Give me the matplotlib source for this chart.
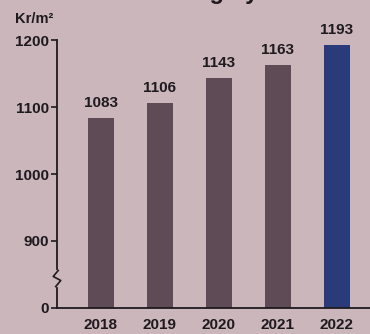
import matplotlib
matplotlib.use("Agg")
import matplotlib.pyplot as plt
import matplotlib.transforms as mtransforms

years = ["2018", "2019", "2020", "2021", "2022"]
rent = [1083, 1106, 1143, 1163, 1193]
tick_vals = [800, 900, 1000, 1100, 1200]
tick_labels = ["0", "900", "1000", "1100", "1200"]

bg = "#cbb6bc"
bar_colors = ["#5e4b55"] * 4 + ["#2b3b7a"]
ink = "#1e1a1e"

plt.rcParams["font.family"] = ["Liberation Sans", "DejaVu Sans"]

fig = plt.figure(figsize=(3.7, 3.34), dpi=100, facecolor=bg)
ax = fig.add_axes([0.154, 0.078, 0.846, 0.802], facecolor=bg)

x = range(len(years))
bars = ax.bar(x, [r - 800 for r in rent], bottom=800, width=0.44, color=bar_colors)
for xi, r in zip(x, rent):
    ax.text(xi, r + 12, str(r), ha="center", va="bottom", fontsize=11,
            fontweight="bold", color=ink)

ax.set_xlim(-0.746, 4.56)
ax.set_ylim(800, 1200)
ax.set_xticks(list(x))
ax.set_xticklabels(years, fontsize=11, fontweight="bold", color=ink)
ax.set_yticks(tick_vals)
ax.set_yticklabels(tick_labels, fontsize=11, fontweight="bold", color=ink)
ax.tick_params(axis="x", length=0, pad=7)
ax.tick_params(axis="y", length=4, width=1.2, color=ink, pad=2)

for s in ["top", "right"]:
    ax.spines[s].set_visible(False)
ax.spines["left"].set_color(ink)
ax.spines["left"].set_linewidth(1.3)
ax.spines["bottom"].set_color(ink)
ax.spines["bottom"].set_linewidth(1.3)

# axis break squiggle
tr = mtransforms.blended_transform_factory(ax.transAxes, ax.transData)
ax.plot([0, 0], [834, 854], color=bg, lw=3, transform=tr, clip_on=False, zorder=5)
ax.plot([-0.004, 0.012, -0.012, 0.004], [832, 841, 847, 856], color=ink, lw=1.2,
        transform=tr, clip_on=False, zorder=6)

fig.text(0.04, 0.93, "Kr/m²", fontsize=10.5, fontweight="bold", color=ink)
fig.text(0.55, 1.026, "Genomsnittlig hyresnivå", fontsize=17, fontweight="bold",
         color=ink, ha="center", va="center")

fig.savefig("out.png", dpi=100, facecolor=bg)
